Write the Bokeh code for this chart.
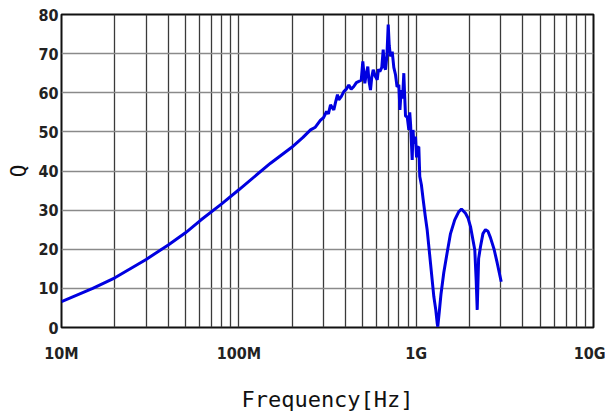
from bokeh.plotting import figure
from bokeh.models import FixedTicker, ColumnDataSource
from bokeh.embed import file_html
from bokeh.resources import INLINE

# Frequency in MHz and quality factor Q
freq_mhz = [10, 15, 20, 30, 40, 50, 60.8, 80, 100, 150.9, 198, 230, 253.7, 270, 288.8, 300,
            312.3, 320, 328.9, 343.2, 352, 360, 366.2, 378, 390.8, 405, 417, 430, 444.9, 460,
            474.9, 490, 500.2, 513.3, 522, 533.7, 542, 552.7, 562, 572.4, 588, 603, 613, 623.7,
            640, 651.8, 661, 671.6, 684, 695.6, 705, 716.7, 732.8, 748, 764.8, 780, 798.3, 810,
            823.5, 838, 851.9, 860, 870.9, 890, 909, 920, 930, 949.8, 960, 970, 991.5, 1005,
            1020, 1035, 1048, 1070, 1095.8, 1125, 1154, 1204.9, 1257.6, 1290, 1314, 1324, 1350,
            1380, 1431, 1500, 1562, 1650, 1739.6, 1800, 1897, 1960, 2025, 2141, 2180, 2209,
            2250, 2306, 2380, 2460, 2540, 2626, 2750, 2864, 3017]
q_vals = [6.6, 10.0, 12.7, 17.4, 21.1, 24.2, 27.4, 31.6, 35.2, 42.0, 46.0, 48.6, 50.5, 51.2,
          53.0, 53.6, 55.2, 54.6, 56.9, 55.6, 57.8, 59.5, 58.2, 59.0, 60.3, 61.0, 62.0, 60.9,
          61.6, 62.6, 62.9, 63.2, 68.0, 62.4, 64.5, 66.7, 63.0, 60.7, 64.0, 65.9, 64.2, 63.3,
          66.0, 65.4, 66.5, 71.0, 66.8, 65.9, 69.5, 77.4, 72.0, 69.3, 70.5, 66.5, 64.6, 61.5,
          62.0, 55.6, 60.7, 58.5, 65.0, 60.0, 54.0, 53.9, 50.5, 55.0, 52.0, 42.8, 50.5, 47.0,
          48.8, 43.5, 46.0, 46.2, 38.6, 36.5, 32.6, 28.5, 24.9, 16.4, 7.9, 4.5, 1.1, 0.2, 4.0,
          8.5, 14.0, 19.5, 24.0, 27.5, 29.6, 30.3, 29.2, 28.0, 25.8, 19.8, 12.0, 4.5, 17.6,
          20.7, 24.0, 25.0, 24.6, 22.9, 20.0, 16.5, 11.7]

x_ticks = [1e7, 1e8, 1e9, 1e10]
x_minor = [m * d for d in (1e7, 1e8, 1e9) for m in range(2, 10)]
x_tick_labels = {10000000: "10M", 100000000: "100M", 1000000000: "1G", 10000000000: "10G"}
y_ticks = [0, 10, 20, 30, 40, 50, 60, 70, 80]
x_title = "Frequency[Hz]"
y_title = "Q"

source = ColumnDataSource(data=dict(f=[v * 1e6 for v in freq_mhz], q=q_vals))

p = figure(width=605, height=416, x_axis_type="log", x_range=(1e7, 1e10), y_range=(0, 80),
           output_backend="svg", toolbar_location=None,
           min_border_left=61, min_border_right=12, min_border_top=14, min_border_bottom=89)

p.line("f", "q", source=source, line_color="#0000e0", line_width=3)

p.xaxis.ticker = FixedTicker(ticks=x_ticks, minor_ticks=x_minor)
p.xaxis.major_label_overrides = x_tick_labels
p.yaxis.ticker = FixedTicker(ticks=y_ticks)

tick_font = "'DejaVu Sans Condensed', sans-serif"
for ax in (p.xaxis, p.yaxis):
    ax.major_tick_line_color = None
    ax.minor_tick_line_color = None
    ax.major_tick_out = 0
    ax.major_tick_in = 0
    ax.minor_tick_out = 0
    ax.axis_line_color = None
    ax.major_label_text_font = tick_font
    ax.major_label_text_font_style = "bold"
    ax.major_label_text_font_size = "16px"
    ax.major_label_text_color = "#222222"
    ax.axis_label_text_font = "DejaVu Sans Mono"
    ax.axis_label_text_font_style = "normal"
    ax.axis_label_text_color = "#111111"

p.xaxis.axis_label = x_title
p.xaxis.axis_label_text_font_size = "22px"
p.xaxis.major_label_standoff = 16
p.xaxis.axis_label_standoff = 21

p.yaxis.axis_label = y_title
p.yaxis.axis_label_text_font_size = "21px"
p.yaxis.major_label_standoff = 3
p.yaxis.axis_label_standoff = 4

p.xgrid.grid_line_color = "#3a3a3a"
p.xgrid.grid_line_width = 1.3
p.xgrid.minor_grid_line_color = "#3a3a3a"
p.xgrid.minor_grid_line_width = 1.3
p.ygrid.grid_line_color = "#8a8a8a"
p.ygrid.grid_line_width = 1.6

p.outline_line_color = "#111111"
p.outline_line_width = 2
p.background_fill_color = "white"
p.border_fill_color = "white"

open("out.html", "w").write(file_html(p, INLINE))
